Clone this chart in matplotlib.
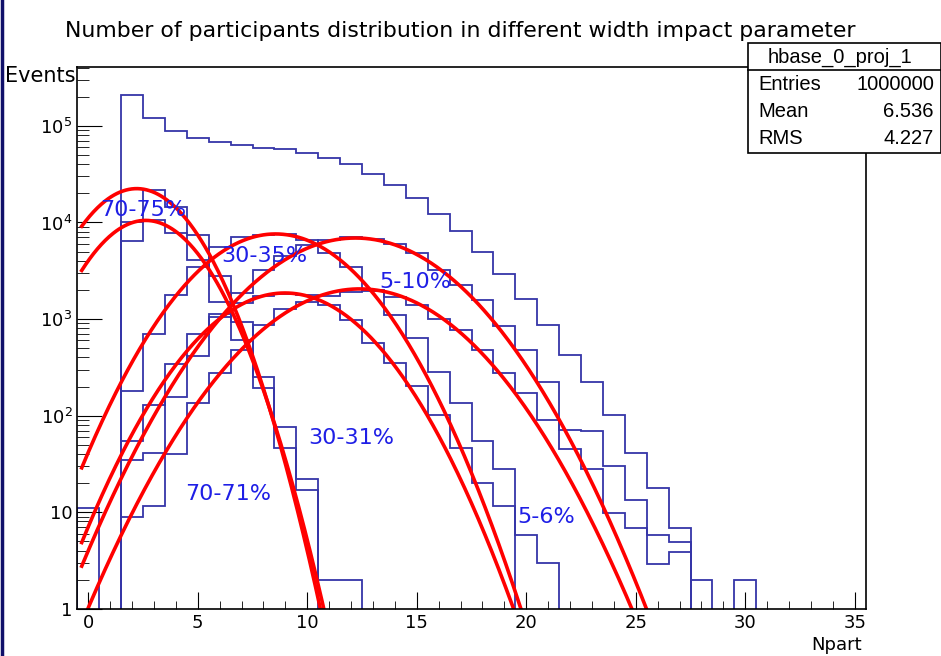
import numpy as np
import matplotlib
matplotlib.use('Agg')
import matplotlib.pyplot as plt
from matplotlib.lines import Line2D

# bin contents, bins of width 1 centred on Npart = 0, 1, 2, ...
total = [11, 0, 2.11e5, 1.2e5, 8.9e4, 7.5e4, 6.8e4, 6.4e4, 5.97e4, 5.8e4,
         5.2e4, 4.6e4, 4.0e4, 3.16e4, 2.43e4, 1.81e4, 1.22e4, 8.2e3, 4.9e3,
         2.9e3, 1.6e3, 865, 423, 224, 102, 41, 17.6, 6.8, 2, 0, 2]
h70_75 = [0, 0, 1.0e4, 2.16e4, 1.45e4, 7.4e3, 2.8e3, 935, 252, 77, 22, 2, 2]
h70_71 = [0, 0, 6.5e3, 1.05e4, 7.8e3, 4.1e3, 1.5e3, 605, 191, 46, 17]
h30_35 = [0, 0, 181, 698, 1.78e3, 3.47e3, 5.6e3, 7.0e3, 7.5e3, 7.6e3, 6.6e3,
          4.8e3, 3.47e3, 2.0e3, 1.1e3, 630, 284, 134, 55, 28]
h30_31 = [0, 0, 55, 129, 341, 698, 1.14e3, 1.45e3, 1.75e3, 1.8e3, 1.77e3,
          1.4e3, 975, 568, 347, 202, 101, 46, 20, 11.6, 5.8, 3]
h5_10 = [0, 0, 35, 40.5, 154, 410, 1.04e3, 1.88e3, 3.2e3, 4.5e3, 5.8e3, 6.6e3,
         7.0e3, 6.8e3, 6.0e3, 4.8e3, 3.2e3, 2.24e3, 1.57e3, 850, 475, 224, 71,
         70, 30, 13.5, 5.8, 4.9]
h5_6 = [0, 0, 9, 11.6, 40, 136, 273, 483, 870, 1.26e3, 1.5e3, 1.75e3, 1.9e3,
        1.95e3, 1.7e3, 1.39e3, 1.01e3, 767, 476, 274, 170, 90, 45, 28, 9.9,
        6.9, 2.9, 3.9]

# gaussian fits: amplitude, mean, sigma
fit_amp = [2.24e4, 1.05e4, 7.6e3, 1.86e3, 6.9e3, 2.05e3]
fit_mean = [2.21, 2.62, 8.55, 8.98, 12.2, 12.4]
fit_sigma = [1.874, 1.89, 2.65, 2.69, 3.16, 3.18]

labels = ['70-75%', '30-35%', '5-10%', '30-31%', '70-71%', '5-6%']
label_x = [0.53, 6.07, 13.3, 10.03, 4.41, 19.57]
label_y = [1.34e4, 4.47e3, 2.4e3, 58, 15.4, 8.9]

HCOL = '#3535a8'

fig = plt.figure(figsize=(9.41, 6.56), dpi=100)
ax = fig.add_axes([0.0822, 0.0721, 0.8378, 0.8262])

for h in [total, h70_75, h70_71, h30_35, h30_31, h5_10, h5_6]:
    v = np.array(h, dtype=float)
    v = np.where(v > 0, v, 1e-2)
    edges = np.arange(len(v) + 1) - 0.5
    ax.stairs(v, edges, baseline=1e-2, color=HCOL, lw=1.3)

xs = np.linspace(-0.3, 35.5, 800)
for a, m, s in zip(fit_amp, fit_mean, fit_sigma):
    ax.plot(xs, a * np.exp(-0.5 * ((xs - m) / s) ** 2), color='red', lw=2.6)

for t, x, y in zip(labels, label_x, label_y):
    ax.text(x, y, t, color='#1f1fe6', fontsize=16, va='center', ha='left')

ax.set_yscale('log')
ax.set_xlim(-0.5, 35.5)
ax.set_ylim(1, 4.1e5)
ax.set_xticks(range(0, 36, 5))
ax.set_xticks(range(0, 36), minor=True)
ax.tick_params(which='both', direction='in', top=False, right=False,
               labelsize=13)
ax.tick_params(axis='x', which='major', length=12)
ax.tick_params(axis='x', which='minor', length=6)
ax.tick_params(axis='y', which='major', length=18)
ax.tick_params(axis='y', which='minor', length=8.5)
ax.yaxis.set_major_formatter(matplotlib.ticker.FuncFormatter(
    lambda v, p: '1' if v == 1 else ('10' if v == 10 else
                                     r'$10^{%d}$' % round(np.log10(v)))))
for sp in ax.spines.values():
    sp.set_linewidth(1.2)

fig.text(5 / 941, 0.884, 'Events', fontsize=15, ha='left', va='center')
fig.text(0.916, 0.017, 'Npart', fontsize=13, ha='right', va='center')
fig.text(0.489, 0.953, 'Number of participants distribution in different width impact parameter',
         fontsize=15.8, ha='center', va='center')

# stats box
bx0, by0, bx1, by1 = 747.7 / 941, 1 - 152.7 / 656, 1.0, 1 - 43.3 / 656
fig.patches.append(plt.Rectangle((bx0, by0), bx1 - bx0, by1 - by0, transform=fig.transFigure,
                                 facecolor='white', edgecolor='black', lw=1.2, zorder=5))
fig.lines.append(Line2D([bx0, bx1], [1 - 70 / 656] * 2, transform=fig.transFigure,
                        color='black', lw=1.2, zorder=6))
sfont = dict(fontsize=14.5, family='Liberation Sans', zorder=7)
fig.text((bx0 + bx1) / 2 - 0.005, 1 - 57 / 656, 'hbase_0_proj_1', ha='center', va='center', **sfont)
rows = [('Entries', '1000000'), ('Mean', '6.536'), ('RMS', '4.227')]
for i, (k, v) in enumerate(rows):
    yy = 1 - (84.5 + 27 * i) / 656
    fig.text(758 / 941, yy, k, ha='left', va='center', **sfont)
    fig.text(934 / 941, yy, v, ha='right', va='center', **sfont)

fig.lines.append(Line2D([1.5 / 941] * 2, [0, 1], transform=fig.transFigure,
                        color='#10106a', lw=2.5))

fig.savefig('out.png', dpi=100)
